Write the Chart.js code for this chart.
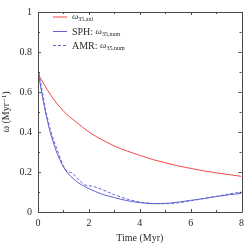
<!DOCTYPE html>
<html>
<head>
<meta charset="utf-8">
<script src="https://cdn.jsdelivr.net/npm/chart.js@4/dist/chart.umd.min.js"></script>
<style>
  html, body { margin: 0; padding: 0; background: #fff; }
  #wrap { width: 249px; height: 244px; }
</style>
</head>
<body>
<div id="wrap"><canvas id="omegaChart" width="249" height="244"></canvas></div>
<script>
"use strict";

// analytic curve
const anlTime  = [0, 0.5, 1, 1.5, 2, 2.5, 3, 3.5, 4, 4.5, 5, 5.5, 6, 6.5, 7, 7.5, 8];
const anlOmega = [0.69, 0.585, 0.505, 0.45, 0.40, 0.362, 0.33, 0.305, 0.283, 0.263, 0.246, 0.231, 0.218, 0.206, 0.196, 0.187, 0.178];

// SPH run
const sphTime  = [0, 0.1, 0.2, 0.3, 0.4, 0.5, 0.6, 0.7, 0.8, 0.9, 1.0, 1.2, 1.4, 1.6, 1.8, 2.0, 2.5, 3.0, 3.5, 4.0, 4.5, 5.0, 5.5, 6.0, 6.5, 7.0, 7.5, 8.0];
const sphOmega = [0.71, 0.63, 0.56, 0.495, 0.44, 0.39, 0.35, 0.31, 0.28, 0.25, 0.225, 0.19, 0.165, 0.145, 0.13, 0.117, 0.09, 0.072, 0.057, 0.047, 0.042, 0.043, 0.049, 0.058, 0.067, 0.077, 0.086, 0.093];

// AMR run
const amrTime  = [0, 0.1, 0.2, 0.3, 0.4, 0.5, 0.6, 0.7, 0.8, 0.9, 1.0, 1.1, 1.2, 1.35, 1.5, 1.7, 1.85, 2.0, 2.2, 2.5, 3.0, 3.5, 4.0, 4.5, 5.0, 5.5, 6.0, 6.5, 7.0, 7.5, 8.0];
const amrOmega = [0.72, 0.65, 0.58, 0.51, 0.455, 0.405, 0.365, 0.33, 0.295, 0.26, 0.23, 0.21, 0.2, 0.195, 0.175, 0.15, 0.135, 0.132, 0.127, 0.113, 0.087, 0.065, 0.05, 0.043, 0.041, 0.046, 0.056, 0.067, 0.078, 0.09, 0.1];

const xTicks = [0, 2, 4, 6, 8];
const yTicks = [0, 0.2, 0.4, 0.6, 0.8, 1];

const RED = "#f24a4a";
const BLUE = "#6262d4";

const legendItems = [
    { pre: "", sub: "35,anl", color: RED, dash: [] },
    { pre: "SPH: ", sub: "35,num", color: BLUE, dash: [] },
    { pre: "AMR: ", sub: "35,num", color: BLUE, dash: [3, 2] }
];

const SERIF = "'Liberation Serif', 'DejaVu Serif', serif";
const AXIS = "#4a4a4a";
const TEXT = "#2a2a2a";

function pts(xs, ys) {
    return xs.map((x, i) => ({ x: x, y: ys[i] }));
}

// inward ticks on all four sides + top/right frame + legend
const framePlugin = {
    id: "frame",
    afterDraw(chart) {
        const ctx = chart.ctx;
        const a = chart.chartArea;
        const xs = chart.scales.x, ys = chart.scales.y;
        ctx.save();
        ctx.strokeStyle = AXIS;
        ctx.lineWidth = 1;
        ctx.beginPath();
        ctx.rect(Math.round(a.left) + 0.5, Math.round(a.top) + 0.5, Math.round(a.right - a.left), Math.round(a.bottom - a.top));
        ctx.stroke();

        ctx.beginPath();
        for (let t = 0; t <= 8; t++) {
            const px = Math.round(xs.getPixelForValue(t)) + 0.5;
            const len = t % 2 === 0 ? 3 : 2;
            ctx.moveTo(px, a.bottom); ctx.lineTo(px, a.bottom - len);
            ctx.moveTo(px, a.top); ctx.lineTo(px, a.top + len);
        }
        for (let k = 0; k <= 10; k++) {
            const py = Math.round(ys.getPixelForValue(k / 10)) + 0.5;
            const len = k % 2 === 0 ? 3 : 2;
            ctx.moveTo(a.left, py); ctx.lineTo(a.left + len, py);
            ctx.moveTo(a.right, py); ctx.lineTo(a.right - len, py);
        }
        ctx.stroke();

        // legend
        const rowY = [16.5, 31, 45];
        legendItems.forEach((it, i) => {
            const y = rowY[i];
            ctx.strokeStyle = it.color;
            ctx.setLineDash(it.dash);
            ctx.beginPath();
            ctx.moveTo(53, y + 0.5); ctx.lineTo(67, y + 0.5);
            ctx.stroke();
            ctx.setLineDash([]);
            ctx.fillStyle = TEXT;
            ctx.textBaseline = "middle";
            ctx.textAlign = "left";
            let x = 72;
            if (it.pre) {
                ctx.font = "10px " + SERIF;
                ctx.fillText(it.pre, x, y + 1);
                x += ctx.measureText(it.pre).width;
            }
            ctx.font = "italic 9px " + SERIF;
            ctx.fillText("\u03c9", x, y + 0.5);
            x += ctx.measureText("\u03c9").width;
            ctx.font = "6px " + SERIF;
            ctx.fillText(it.sub, x, y + 3);
        });
        ctx.restore();
    }
};

const lineBase = {
    showLine: true,
    pointRadius: 0,
    borderWidth: 1,
    fill: false,
    cubicInterpolationMode: "monotone"
};

new Chart(document.getElementById("omegaChart"), {
    type: "scatter",
    data: {
        datasets: [
            Object.assign({}, lineBase, { label: "anl", data: pts(anlTime, anlOmega), borderColor: RED }),
            Object.assign({}, lineBase, { label: "SPH", data: pts(sphTime, sphOmega), borderColor: BLUE }),
            Object.assign({}, lineBase, { label: "AMR", data: pts(amrTime, amrOmega), borderColor: BLUE, borderDash: [3, 2] })
        ]
    },
    options: {
        responsive: false,
        animation: false,
        layout: { padding: { top: 4, right: 4, left: 0, bottom: 0 } },
        plugins: { legend: { display: false }, tooltip: { enabled: false } },
        scales: {
            x: {
                type: "linear", min: 0, max: 8,
                afterFit(s) { s.height = 32; },
                afterBuildTicks(s) { s.ticks = xTicks.map(v => ({ value: v })); },
                grid: { display: false, drawTicks: false },
                border: { display: true, color: AXIS },
                ticks: { color: TEXT, padding: 5, maxRotation: 0, font: { family: SERIF, size: 10 } },
                title: { display: true, text: "Time (Myr)", color: TEXT, padding: { top: 2, bottom: 0 }, font: { family: SERIF, size: 10 } }
            },
            y: {
                type: "linear", min: 0, max: 1,
                afterFit(s) { s.width = 38; },
                afterBuildTicks(s) { s.ticks = yTicks.map(v => ({ value: v })); },
                grid: { display: false, drawTicks: false },
                border: { display: true, color: AXIS },
                ticks: { color: TEXT, padding: 6, font: { family: SERIF, size: 10 },
                         callback: v => String(Math.round(v * 10) / 10) },
                title: { display: true, text: "\u03c9 (Myr\u207b\u00b9)", color: TEXT, padding: { top: 0, bottom: 0 }, font: { family: SERIF, size: 10 } }
            }
        }
    },
    plugins: [framePlugin]
});
</script>
</body>
</html>
